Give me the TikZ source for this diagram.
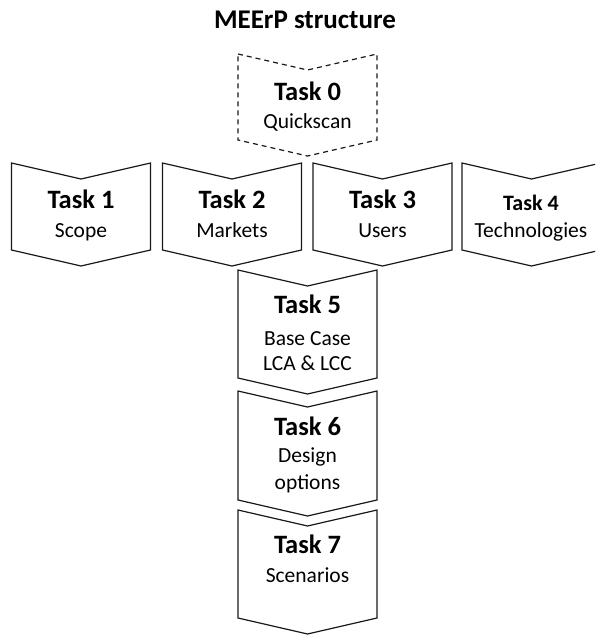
\documentclass[tikz,border=0pt]{standalone}
\usepackage{fontspec}
\setmainfont{Carlito}
\newcommand\chevshape[4]{% cx, ytop, h, extra style
  \draw[shp,#4] (#1-69.5,#2) -- (#1,#2+16) -- (#1+69.5,#2) -- (#1+69.5,#2+#3)
    -- (#1,#2+#3+16) -- (#1-69.5,#2+#3) -- cycle;}
\begin{document}
\begin{tikzpicture}[x=1pt,y=-1pt,
  shp/.style={draw=black!90,line width=1.2pt,fill=white,line join=miter},
  ttl/.style={anchor=base,inner sep=0pt,font=\bfseries\fontsize{26.5}{30}\selectfont},
  ttls/.style={anchor=base,inner sep=0pt,font=\bfseries\fontsize{22}{26}\selectfont},
  sub/.style={anchor=base,inner sep=0pt,font=\fontsize{21.5}{25}\selectfont},
  head/.style={anchor=base,inner sep=0pt,font=\bfseries\fontsize{27}{30}\selectfont}]
\useasboundingbox (0,0) rectangle (595,635);
\clip (0,0) rectangle (595,635);
\node[head] (title) at (305,28) {MEErP structure};
% Task 0
\chevshape{307.5}{54}{86}{dashed,dash pattern=on 5pt off 4pt}
\node[ttl] (t0) at (307.5,100) {Task 0};
\node[sub] (t0s) at (307.5,128) {Quickscan};
% Row of tasks 1-4
\chevshape{81}{163}{87}{}
\node[ttl] (t1) at (81,208) {Task 1};
\node[sub] (t1s) at (81,237) {Scope};
\chevshape{232}{163}{87}{}
\node[ttl] (t2) at (232,208) {Task 2};
\node[sub] (t2s) at (232,237) {Markets};
\chevshape{382.5}{163}{87}{}
\node[ttl] (t3) at (382.5,208) {Task 3};
\node[sub] (t3s) at (382.5,237) {Users};
\chevshape{531.5}{163}{87}{}
\node[ttls] (t4) at (531,210) {Task 4};
\node[sub] (t4s) at (531,237) {Technologies};
% Column tasks 5-7
\chevshape{307.5}{270}{108}{}
\node[ttl] (t5) at (307.5,313) {Task 5};
\node[sub] (t5s) at (307.5,345) {Base Case};
\node[sub] (t5t) at (307.5,370) {LCA \& LCC};
\chevshape{307.5}{391}{109}{}
\node[ttl] (t6) at (307.5,435) {Task 6};
\node[sub] (t6s) at (307.5,462) {Design};
\node[sub] (t6t) at (307.5,489) {options};
\chevshape{307.5}{510}{108}{}
\node[ttl] (t7) at (307.5,553) {Task 7};
\node[sub] (t7s) at (307.5,582) {Scenarios};
\end{tikzpicture}
\end{document}
